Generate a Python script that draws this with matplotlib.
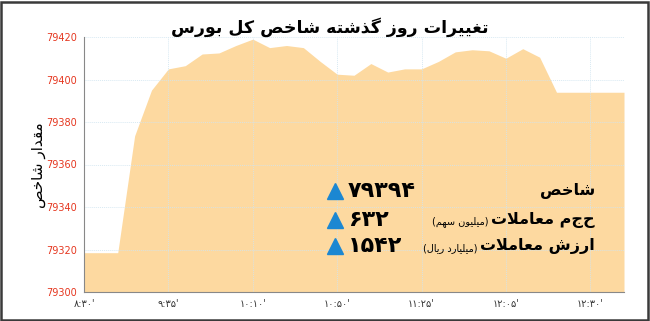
import matplotlib
matplotlib.use('Agg')
import matplotlib.pyplot as plt
from matplotlib.patches import Rectangle

# Arabic presentation forms: (isolated, final, initial, medial)
FORMS = {
    'ا': ('\uFE8D', '\uFE8E', None, None),
    'ب': ('\uFE8F', '\uFE90', '\uFE91', '\uFE92'),
    'ت': ('\uFE95', '\uFE96', '\uFE97', '\uFE98'),
    'ح': ('\uFEA1', '\uFEA2', '\uFEA3', '\uFEA4'),
    'خ': ('\uFEA5', '\uFEA6', '\uFEA7', '\uFEA8'),
    'د': ('\uFEA9', '\uFEAA', None, None),
    'ذ': ('\uFEAB', '\uFEAC', None, None),
    'ر': ('\uFEAD', '\uFEAE', None, None),
    'ز': ('\uFEAF', '\uFEB0', None, None),
    'س': ('\uFEB1', '\uFEB2', '\uFEB3', '\uFEB4'),
    'ش': ('\uFEB5', '\uFEB6', '\uFEB7', '\uFEB8'),
    'ص': ('\uFEB9', '\uFEBA', '\uFEBB', '\uFEBC'),
    'ع': ('\uFEC9', '\uFECA', '\uFECB', '\uFECC'),
    'غ': ('\uFECD', '\uFECE', '\uFECF', '\uFED0'),
    'ق': ('\uFED5', '\uFED6', '\uFED7', '\uFED8'),
    'ل': ('\uFEDD', '\uFEDE', '\uFEDF', '\uFEE0'),
    'م': ('\uFEE1', '\uFEE2', '\uFEE3', '\uFEE4'),
    'ن': ('\uFEE5', '\uFEE6', '\uFEE7', '\uFEE8'),
    'ه': ('\uFEE9', '\uFEEA', '\uFEEB', '\uFEEC'),
    'و': ('\uFEED', '\uFEEE', None, None),
    'ک': ('\uFB8E', '\uFB8F', '\uFB90', '\uFB91'),
    'گ': ('\uFB92', '\uFB93', '\uFB94', '\uFB95'),
    'ی': ('\uFBFC', '\uFBFD', '\uFBFE', '\uFBFF'),
}


def fa(s):
    # join letters and flip to visual order (no digits in these strings)
    res = []
    n = len(s)
    i = 0
    while i < n:
        c = s[i]
        if c not in FORMS:
            res.append(c)
            i += 1
            continue
        prev = s[i - 1] if i > 0 else None
        conn_prev = prev in FORMS and FORMS[prev][2] is not None
        if c == 'ل' and i + 1 < n and s[i + 1] == 'ا':
            res.append('\uFEFC' if conn_prev else '\uFEFB')
            i += 2
            continue
        nxt = s[i + 1] if i + 1 < n else None
        conn_next = nxt in FORMS and FORMS[c][2] is not None
        iso, fin, ini, med = FORMS[c]
        if conn_prev and conn_next:
            res.append(med)
        elif conn_prev:
            res.append(fin)
        elif conn_next:
            res.append(ini)
        else:
            res.append(iso)
        i += 1
    return ''.join(res)[::-1]


# data
index_values = [79318.5, 79318.5, 79318.5, 79373.5, 79395, 79405, 79406.5, 79412,
                79412.5, 79416, 79419, 79415, 79416, 79415, 79408.5, 79402.5,
                79402, 79407.5, 79403.5, 79405, 79405, 79408.5, 79413, 79414,
                79413.5, 79410, 79414.5, 79410.5, 79394, 79394, 79394, 79394, 79394]
tick_pos = [0, 5, 10, 15, 20, 25, 30]
tick_labels = ["۸:۳۰'", "۹:۳۵'", "۱۰:۱۰'", "۱۰:۵۰'", "۱۱:۲۵'", "۱۲:۰۵'", "۱۲:۳۰'"]
y_ticks = [79300, 79320, 79340, 79360, 79380, 79400, 79420]

row_names = ['شاخص', 'حجم معاملات', 'ارزش معاملات']
row_units = [None, '(میلیون سهم)', '(میلیارد ریال)']
row_values = ['۷۹۳۹۴', '۶۳۲', '۱۵۴۲']

fill_color = '#fdd9a0'
blue = '#1b87d2'
red = '#e5361f'

fig = plt.figure(figsize=(6.5, 3.21), dpi=100)
ax = fig.add_axes([84 / 650, 1 - 292 / 321, 540 / 650, 255 / 321])

x = list(range(len(index_values)))
ax.fill_between(x, 79300, index_values, color=fill_color, lw=0, zorder=1)

ax.set_xlim(0, len(index_values) - 1)
ax.set_ylim(79300, 79420)
ax.set_yticks(y_ticks)
ax.set_yticklabels([str(v) for v in y_ticks], color=red, fontsize=7)
ax.set_xticks(tick_pos)
ax.set_xticklabels(tick_labels, fontsize=7, color='#333333')
ax.tick_params(length=0, pad=5)
ax.grid(True, color='#cfe4f0', lw=0.7, ls=(0, (1, 1)), zorder=2, alpha=0.8)
ax.set_axisbelow(False)
for s in ['top', 'right']:
    ax.spines[s].set_visible(False)
ax.spines['left'].set_color('#888888')
ax.spines['bottom'].set_color('#888888')
ax.spines['left'].set_zorder(3)
ax.spines['bottom'].set_zorder(3)

# title and y label
fig.text(330 / 650, 1 - 27 / 321, fa('تغییرات روز گذشته شاخص کل بورس'),
         ha='center', va='center', fontsize=12.5, fontweight='bold')
fig.text(38 / 650, 1 - 165 / 321, fa('مقدار شاخص'), rotation=90,
         ha='center', va='center', fontsize=11)

# info block
renderer = fig.canvas.get_renderer()
row_y = [191, 220, 246]
for y, name, unit, val in zip(row_y, row_names, row_units, row_values):
    yf = 1 - y / 321
    t = fig.text(595 / 650, yf, fa(name), ha='right', va='center',
                 fontsize=11.5, fontweight='bold')
    if unit:
        left = t.get_window_extent(renderer).x0
        fig.text((left - 3) / 650, yf - 0.006, '(' + fa(unit[1:-1]) + ')',
                 ha='right', va='center', fontsize=7)
    fig.text(348 / 650, yf, val, ha='left', va='center', fontsize=16,
             fontweight='bold')
    ax.plot([335 / 650], [yf], marker='^', ms=12, color=blue, mec=blue,
            transform=fig.transFigure, clip_on=False, zorder=5)

fig.patches.append(Rectangle((0.002, 0.004), 0.995, 0.99, transform=fig.transFigure,
                             fill=False, edgecolor='#3a3a3a', lw=1.8))

fig.savefig('out.png', dpi=100)
